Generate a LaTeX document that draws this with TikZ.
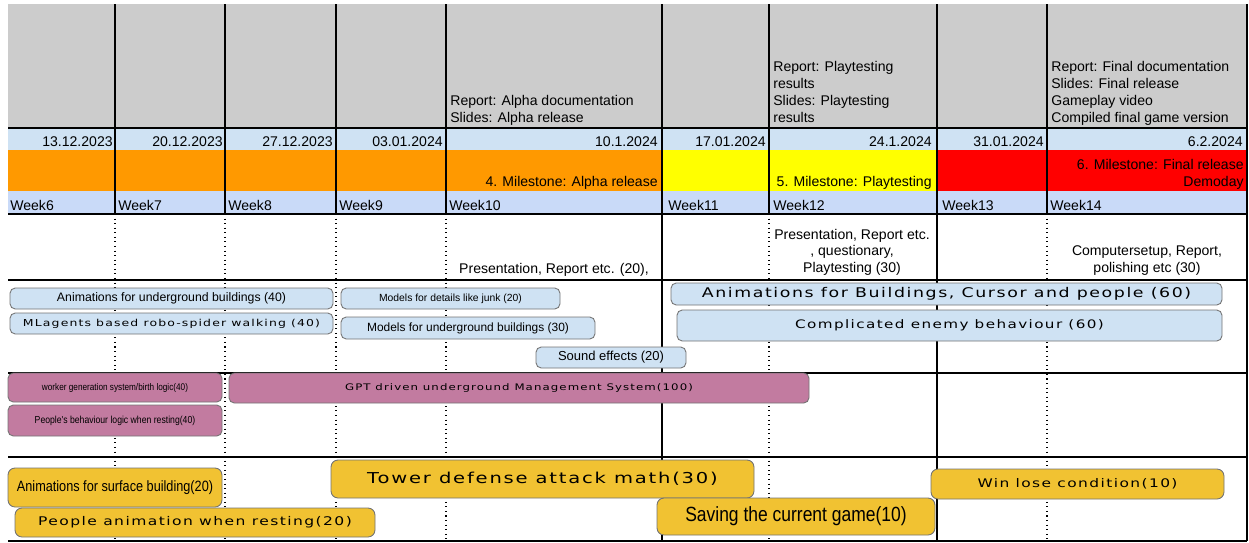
\documentclass[tikz,border=0pt]{standalone}
\usepackage{fontspec}
\setmainfont{Liberation Sans}
\newfontfamily\widefont[FakeStretch=1.3,LetterSpace=12]{DejaVu Sans}
\newfontfamily\narrowfont[FakeStretch=0.85]{Liberation Sans}
\usetikzlibrary{positioning,fit}
\definecolor{hdrgray}{HTML}{CCCCCC}
\definecolor{datebg}{HTML}{CFE2F3}
\definecolor{weekbg}{HTML}{C9DAF8}
\definecolor{msorange}{HTML}{FF9900}
\definecolor{msyellow}{HTML}{FFFF00}
\definecolor{msred}{HTML}{FF0000}
\definecolor{tskblue}{HTML}{CFE2F3}
\definecolor{tskpurple}{HTML}{C27BA0}
\definecolor{tskgold}{HTML}{F1C232}
\tikzset{
  txt/.style={inner sep=0,font=\fontsize{8}{9.6}\selectfont},
  note/.style={inner sep=0,align=left,font=\fontsize{8}{9.6}\selectfont},
  cnote/.style={inner sep=0,align=center,font=\fontsize{8}{9.3}\selectfont},
  tsk/.style={draw=black!55,fill=tskblue,rounded corners=3pt,inner sep=0,line width=0.5pt},
  ptsk/.style={tsk,fill=tskpurple},
  ytsk/.style={tsk,fill=tskgold,rounded corners=4pt},
  grd/.style={line width=0.6pt},
  thk/.style={line width=1.7pt},
  dotln/.style={line width=0.6pt,dotted},
}
\begin{document}
\begin{tikzpicture}[x=0.02cm,y=-0.02cm]
  \useasboundingbox (0,0) rectangle (1249,542);
  % header rows
  \fill[hdrgray] (8,4) rectangle (1247,128);
  \fill[datebg] (8,128) rectangle (1247,150);
  \fill[msorange] (8,150) rectangle (662,191);
  \fill[msyellow] (662,150) rectangle (937,191);
  \fill[msred] (937,150) rectangle (1247,191);
  \fill[weekbg] (8,191) rectangle (1247,214);
  % grid
  \foreach \x in {115,225,336,446,769,1047}{
    \draw[grd] (\x,4) -- (\x,214);
    \draw[dotln] (\x,214) -- (\x,541);
  }
  \foreach \y in {128,214,280,373,457,541} \draw[grd] (8,\y) -- (1247,\y);
  \draw[grd] (1247,4) -- (1247,541);
  \draw[thk] (662,4) -- (662,541);
  \draw[thk] (937,4) -- (937,541);
  % deliverables (base = last line)
  \node[note,anchor=base west] (alpha) at (450,122) {Report: Alpha documentation\\Slides: Alpha release};
  \node[note,anchor=base west] (play) at (773,122) {Report: Playtesting\\results\\Slides: Playtesting\\results};
  \node[note,anchor=base west] (final) at (1051,122) {Report: Final documentation\\Slides: Final release\\Gameplay video\\Compiled final game version};
  % dates
  \node[txt,anchor=base east] (d6) at (113,146) {13.12.2023};
  \node[txt,anchor=base east] (d7) at (223,146) {20.12.2023};
  \node[txt,anchor=base east] (d8) at (333,146) {27.12.2023};
  \node[txt,anchor=base east] (d9) at (443,146) {03.01.2024};
  \node[txt,anchor=base east] (d10) at (658,146) {10.1.2024};
  \node[txt,anchor=base east] (d11) at (766,146) {17.01.2024};
  \node[txt,anchor=base east] (d12) at (932,146) {24.1.2024};
  \node[txt,anchor=base east] (d13) at (1044,146) {31.01.2024};
  \node[txt,anchor=base east] (d14) at (1243,146) {6.2.2024};
  % milestones
  \node[txt,anchor=base east] (ms4) at (658,186) {4. Milestone: Alpha release};
  \node[txt,anchor=base east] (ms5) at (932,186) {5. Milestone: Playtesting};
  \node[note,align=right,anchor=base east] (ms6) at (1244,186) {6. Milestone: Final release\\Demoday};
  % weeks
  \node[txt,anchor=base west] (w6) at (10,210) {Week6};
  \node[txt,anchor=base west] (w7) at (118,210) {Week7};
  \node[txt,anchor=base west] (w8) at (228,210) {Week8};
  \node[txt,anchor=base west] (w9) at (339,210) {Week9};
  \node[txt,anchor=base west] (w10) at (449,210) {Week10};
  \node[txt,anchor=base west] (w11) at (668,210) {Week11};
  \node[txt,anchor=base west] (w12) at (773,210) {Week12};
  \node[txt,anchor=base west] (w13) at (942,210) {Week13};
  \node[txt,anchor=base west] (w14) at (1050,210) {Week14};
  % presentation work
  \node[txt,anchor=base] (pres10) at (554,273) {Presentation, Report etc. (20),};
  \node[cnote,anchor=base] (pres12) at (852,272) {Presentation, Report etc.\\, questionary,\\Playtesting (30)};
  \node[cnote,anchor=base] (pres14) at (1147,272) {Computersetup, Report,\\polishing etc (30)};
  % blue tasks
  \node[tsk,fit={(10,288)(333,309)},label={[font=\fontsize{7}{8}\selectfont]center:Animations for underground buildings (40)}] (anUnder) {};
  \node[tsk,fit={(10,313)(333,334)},label={[font=\widefont\fontsize{5.45}{7}\selectfont]center:MLagents based robo-spider walking (40)}] (mlSpider) {};
  \node[tsk,fit={(341,288)(560,309)},label={[font=\fontsize{5.9}{7}\selectfont]center:Models for details like junk (20)}] (mdJunk) {};
  \node[tsk,fit={(341,317)(595,339)},label={[font=\fontsize{6.8}{8}\selectfont]center:Models for underground buildings (30)}] (mdUnder) {};
  \node[tsk,fit={(536,347)(686,368)},label={[font=\fontsize{7.4}{8}\selectfont]center:Sound effects (20)}] (sound) {};
  \node[tsk,fit={(671,283)(1222,305)},label={[font=\widefont\fontsize{7.6}{8}\selectfont]center:Animations for Buildings, Cursor and people (60)}] (anBuild) {};
  \node[tsk,fit={(677,310)(1222,341)},label={[font=\widefont\fontsize{6.65}{8}\selectfont]center:Complicated enemy behaviour (60)}] (enemy) {};
  % purple tasks
  \node[ptsk,fit={(8,373)(222,402)},label={[font=\narrowfont\fontsize{5.5}{6}\selectfont]center:worker generation system/birth logic(40)}] (workerGen) {};
  \node[ptsk,fit={(8,405)(222,436)},label={[font=\narrowfont\fontsize{5.8}{6}\selectfont]center:People's behaviour logic when resting(40)}] (peopleLogic) {};
  \node[ptsk,fit={(229,373)(809,403)},label={[font=\widefont\fontsize{5.15}{7}\selectfont]center:GPT driven underground Management System(100)}] (gpt) {};
  % gold tasks
  \node[ytsk,fit={(8,468)(222,507)},label={[font=\narrowfont\fontsize{8.5}{9}\selectfont]center:Animations for surface building(20)}] (anSurface) {};
  \node[ytsk,fit={(15,508)(375,537)},label={[font=\widefont\fontsize{6.8}{8}\selectfont]center:People animation when resting(20)}] (peopleAnim) {};
  \node[ytsk,fit={(331,460)(754,498)},label={[font=\widefont\fontsize{8.55}{10}\selectfont]center:Tower defense attack math(30)}] (tower) {};
  \node[ytsk,fit={(657,498)(935,535)},label={[font=\narrowfont\fontsize{11.7}{12}\selectfont]center:Saving the current game(10)}] (saving) {};
  \node[ytsk,fit={(931,469)(1224,499)},label={[font=\widefont\fontsize{6.75}{8}\selectfont]center:Win lose condition(10)}] (winLose) {};
\end{tikzpicture}
\end{document}
